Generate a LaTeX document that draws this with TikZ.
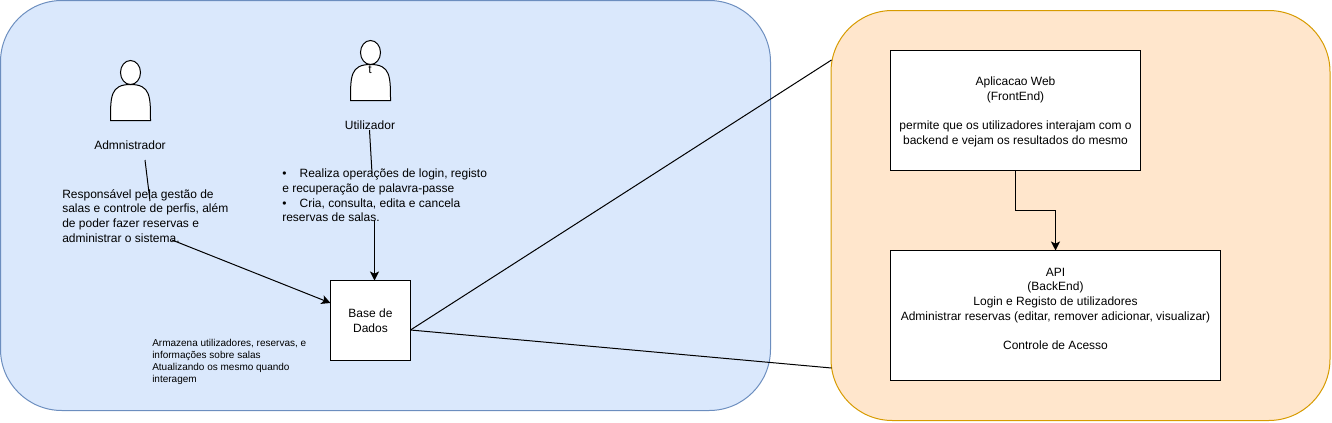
\documentclass[tikz,border=0pt]{standalone}
\usepackage{fontspec}
\setmainfont{Liberation Sans}
\usepackage{tikz}
\usetikzlibrary{arrows.meta}
\usetikzlibrary{positioning}

\definecolor{azulfill}{HTML}{DAE8FC}
\definecolor{azulline}{HTML}{6C8EBF}
\definecolor{laranjafill}{HTML}{FFE6CC}
\definecolor{laranjaline}{HTML}{D79B00}

\tikzset{
	painel/.style={draw, line width=.75pt, rounded corners=46pt, inner sep=0pt, outer sep=0pt},
	caixa/.style={draw=black, fill=white, line width=.75pt, align=center, inner sep=0pt, outer sep=0pt, font=\fontsize{9}{11}\selectfont},
	texto/.style={align=left, inner sep=0pt, font=\fontsize{9}{11}\selectfont},
	textinho/.style={align=left, inner sep=0pt, font=\fontsize{7.5}{9}\selectfont},
	ator/.style={draw=black, fill=white, line width=.75pt},
	liga/.style={line width=.75pt},
	seta/.style={line width=.75pt, -{Stealth[length=2.4mm, width=2.4mm, inset=.6mm]}}
}

\begin{document}
\begin{tikzpicture}[x=.75pt, y=-.75pt]
	\useasboundingbox (0,0) rectangle (1332,422);

	\node[painel, fill=azulfill, draw=azulline, minimum width=577.5pt, minimum height=307.5pt] (Cliente) at (385.5,205.5) {};
	\node[painel, fill=laranjafill, draw=laranjaline, minimum width=374.25pt, minimum height=307.5pt] (Servidor) at (1080.5,215.5) {};

	% atores
	\foreach \nome/\ax/\ay in {Adm/110.5/60.5, Util/350.5/40.5} {
		\draw[ator, shift={(\ax,\ay)}] (0,60) .. controls (0,36) and (0,24) .. (20,24) .. controls (40,24) and (40,36) .. (40,60) -- cycle;
		\draw[ator, shift={(\ax,\ay)}] (20,12) ellipse (10 and 12);
	}
	\node[texto] (t) at (370,70) {t};

	\node[texto] (Adm) at (130,145) {Admnistrador};
	\node[texto] (Util) at (370,125) {Utilizador};

	\node[texto, anchor=north west] (AdmInfo) at (62,189) {Responsável pela gestão de\\salas e controle de perfis, além\\de poder fazer reservas e\\administrar o sistema.};
	\node[texto, anchor=north west] (UtilInfo) at (282,169) {\makebox[13pt][l]{•}Realiza operações de login, registo\\e recuperação de palavra-passe\\\makebox[13pt][l]{•}Cria, consulta, edita e cancela\\reservas de salas.};
	\node[textinho, anchor=north west] (BDInfo) at (152,339) {Armazena utilizadores, reservas, e\\informações sobre salas\\Atualizando os mesmo quando\\interagem};

	\node[caixa, minimum width=60pt, minimum height=60pt] (BD) at (370.5,320.5) {Base de\\Dados};
	\node[caixa, minimum width=187.5pt, minimum height=90pt] (Web) at (1015.5,110.5) {\rule{0pt}{9pt}Aplicacao Web\\(FrontEnd)\\~\\permite que os utilizadores interajam com o\\backend e vejam os resultados do mesmo};
	\node[caixa, minimum width=247.5pt, minimum height=97.5pt] (API) at (1055.5,315.5) {\rule{0pt}{7.2pt}API\\(BackEnd)\\Login e Registo de utilizadores\\Administrar reservas (editar, remover adicionar, visualizar)\\~\\Controle de Acesso\\~};

	% pontas soltas
	\coordinate (AdmOut) at (145,160);
	\coordinate (AdmInfoIn) at (150,201);
	\coordinate (AdmInfoOut) at (172,240);
	\coordinate (UtilOut) at (369.5,130);
	\coordinate (UtilInfoIn) at (372,173);
	\coordinate (UtilInfoOut) at (374.5,220);
	\coordinate (BDInAdm) at (330.5,303);
	\coordinate (BDInUtil) at (374.5,280.5);
	\coordinate (BDOut) at (410.5,330);
	\coordinate (ServWeb) at (831.5,60);
	\coordinate (ServAPI) at (831.5,368);

	\draw[liga] (AdmOut) -- (AdmInfoIn);
	\draw[liga] (UtilOut) -- (UtilInfoIn);
	\draw[seta] (AdmInfoOut) -- (BDInAdm);
	\draw[seta] (UtilInfoOut) -- (BDInUtil);
	\draw[liga] (BDOut) -- (ServWeb);
	\draw[liga] (BDOut) -- (ServAPI);
	\draw[seta] (Web.south) -- ++(0,40) -| (API.north);
\end{tikzpicture}
\end{document}
